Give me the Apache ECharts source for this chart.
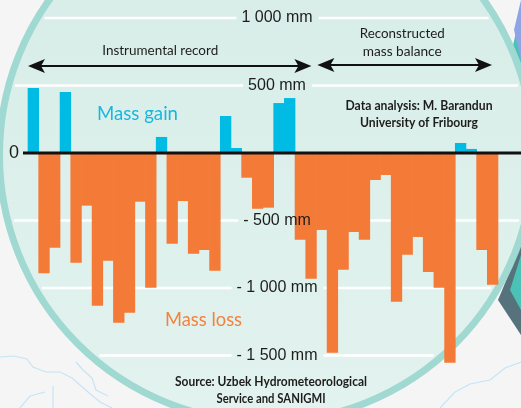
<!DOCTYPE html>
<html>
<head>
<meta charset="utf-8">
<script src="https://cdn.jsdelivr.net/npm/echarts@6/dist/echarts.min.js"></script>
<style>
  html, body { margin: 0; padding: 0; background: #f5f5f5; }
  #chart { width: 521px; height: 408px; }
</style>
</head>
<body>
<div id="chart"></div>
<script>
// Annual glacier mass balance, mm water equivalent
const years = ['1968','1969','1970','1971','1972','1973','1974','1975','1976','1977',
  '1978','1979','1980','1981','1982','1983','1984','1985','1986','1987',
  '1988','1989','1990','1991','1992','1993','1994','1995','1996','1997',
  '1998','1999','2000','2001','2002','2003','2004','2005','2006','2007',
  '2008','2009','2010','2011'];
const balance = [481, -890, -701, 452, -813, -390, -1131, -798, -1257, -1183,
  -361, -998, 119, -672, -356, -746, -719, -872, 274, 37,
  -183, -413, -405, 370, 407, -642, -931, -570, -1479, -864,
  -585, -642, -200, -163, -1101, -753, -622, -881, -998, -1553,
  74, 30, -719, -976];

// Axis ticks and their labels
const tickValues = [1000, 500, 0, -500, -1000, -1500];
const tickLabels = ['1 000 mm', '500 mm', '0', '- 500 mm', '- 1 000 mm', '- 1 500 mm'];

// Record periods shown by the arrows
const periodNames = [['Instrumental record'], ['Reconstructed', 'mass balance']];
const periodStart = ['1968', '1995'];
const periodEnd = ['1994', '2011'];

const GAIN = '#00bbe4';
const LOSS = '#f47a37';
const INK = '#1d1d1b';
const LENS = { cx: 266.5, cy: 155, r: 267 };

const chart = echarts.init(document.getElementById('chart'));

chart.setOption({
  backgroundColor: '#f5f5f5',
  animation: false,
  grid: { left: 28, right: 23, top: 18, bottom: 52.5 },
  xAxis: {
    type: 'category',
    data: years,
    show: false,
    boundaryGap: true
  },
  yAxis: {
    type: 'value',
    min: -1500,
    max: 1000,
    interval: 500,
    position: 'left',
    offset: -249,
    z: 10,
    axisLine: { show: false },
    axisTick: { show: false },
    splitLine: { show: false },
    axisLabel: {
      margin: 0,
      align: 'center',
      color: INK,
      fontFamily: 'Liberation Sans, Arial, sans-serif',
      fontSize: 16,
      formatter: function (v) {
        const i = tickValues.indexOf(v);
        return (i < 0 || v === 0) ? '' : tickLabels[i];
      }
    }
  },
  series: [{
    type: 'bar',
    data: balance.map(function (v) {
      return { value: v, itemStyle: { color: v >= 0 ? GAIN : LOSS } };
    }),
    barWidth: '106%',
    clip: false,
    silent: true,
    z: 2
  }]
});

// Decorations placed from the axis scales
const px = function (cat) { return chart.convertToPixel({ xAxisIndex: 0 }, cat); };
const py = function (v) { return chart.convertToPixel({ yAxisIndex: 0 }, v); };
const band = px(years[1]) - px(years[0]);
const zeroY = py(0);

const measure = (function () {
  const ctx = document.createElement('canvas').getContext('2d');
  return function (text, font) { ctx.font = font; return ctx.measureText(text).width; };
})();

const graphics = [];

// lens background
graphics.push({
  type: 'circle', z: -9, silent: true,
  shape: { cx: LENS.cx, cy: LENS.cy, r: LENS.r },
  style: {
    fill: new echarts.graphic.LinearGradient(0, 0, 0, 1, [
      { offset: 0, color: '#d5ece7' },
      { offset: 1, color: '#e3f3ef' }
    ]),
    stroke: '#a0d9d2',
    lineWidth: 7
  }
});

// faint river lines outside the lens
[
  [[0, 357], [14, 356], [27, 359], [33, 367], [46, 372], [60, 372], [72, 378], [88, 392], [100, 402], [112, 408]],
  [[53, 386], [53, 408]],
  [[76, 362], [83, 370], [92, 378], [96, 390], [108, 396]],
  [[440, 408], [455, 392], [470, 384], [490, 380], [505, 368], [521, 362]],
  [[20, 408], [30, 396], [45, 392]]
].forEach(function (pts) {
  graphics.push({
    type: 'polyline', z: -10, silent: true,
    shape: { points: pts },
    style: { stroke: '#c6e4f4', lineWidth: 1.2, fill: null }
  });
});

// shapes at the right edge
graphics.push({ type: 'polygon', z: -10, silent: true,
  shape: { points: [[521, 10], [507, 72], [521, 100]] }, style: { fill: '#4cc1b6' } });
graphics.push({ type: 'polygon', z: -10, silent: true,
  shape: { points: [[521, 0], [514, 30], [521, 60]] }, style: { fill: '#8fa4e4' } });
graphics.push({ type: 'polygon', z: -10, silent: true,
  shape: { points: [[521, 245], [498, 300], [521, 335]] }, style: { fill: '#56727c' } });
graphics.push({ type: 'polygon', z: -10, silent: true,
  shape: { points: [[521, 255], [510, 290], [521, 310]] }, style: { fill: '#4cc1b6' } });

// gridlines, broken around the tick labels
const labelFont = '16px Liberation Sans, Arial, sans-serif';
const labelX = 277;
tickValues.forEach(function (v, i) {
  if (v === 0) return;
  const y = py(v);
  const dy = y - LENS.cy;
  const rr = LENS.r - 6;
  if (Math.abs(dy) >= rr) return;
  const half = Math.sqrt(rr * rr - dy * dy);
  const x0 = LENS.cx - half, x1 = LENS.cx + half;
  const w = measure(tickLabels[i], labelFont);
  const gapL = labelX - w / 2 - 5, gapR = labelX + w / 2 + 6;
  [[x0, gapL], [gapR, x1]].forEach(function (seg) {
    if (seg[1] > seg[0]) {
      graphics.push({
        type: 'line', z: -8, silent: true,
        shape: { x1: seg[0], y1: y, x2: seg[1], y2: y },
        style: { stroke: '#ffffff', lineWidth: 2.5 }
      });
    }
  });
});

// zero line and its label
graphics.push({
  type: 'line', z: 5, silent: true,
  shape: { x1: 23, y1: zeroY, x2: 521, y2: zeroY },
  style: { stroke: '#111111', lineWidth: 3 }
});
graphics.push({
  type: 'text', z: 6, silent: true, x: 14, y: zeroY,
  style: { text: tickLabels[tickValues.indexOf(0)], font: '18px Liberation Sans, Arial, sans-serif',
    fill: INK, align: 'center', verticalAlign: 'middle' }
});

// period arrows
function arrow(xa, xb, y) {
  const len = 17, hh = 7;
  graphics.push({ type: 'line', z: 6, silent: true,
    shape: { x1: xa + 8, y1: y, x2: xb - 8, y2: y },
    style: { stroke: '#111111', lineWidth: 2.2 } });
  graphics.push({ type: 'polygon', z: 6, silent: true,
    shape: { points: [[xa, y], [xa + len, y - hh], [xa + len - 4, y], [xa + len, y + hh]] },
    style: { fill: '#111111' } });
  graphics.push({ type: 'polygon', z: 6, silent: true,
    shape: { points: [[xb, y], [xb - len, y - hh], [xb - len + 4, y], [xb - len, y + hh]] },
    style: { fill: '#111111' } });
}
const arrowY = py(1000) + 48;
const insets = [[0, 5], [1, 6]];
periodNames.forEach(function (names, k) {
  const xa = px(periodStart[k]) - band / 2 + insets[k][0];
  const xb = px(periodEnd[k]) + band / 2 - insets[k][1];
  arrow(xa, xb, arrowY - k);
});

const bodyFont = 'Lato, Open Sans, sans-serif';
function label(text, x, y, size, color, targetW, weight) {
  const font = (weight || 'normal') + ' ' + size + 'px ' + bodyFont;
  const w = measure(text, font);
  const sx = targetW ? targetW / w : 1;
  graphics.push({ type: 'text', z: 6, silent: true, x: x, y: y, scaleX: sx,
    style: { text: text, font: font, fill: color, align: 'center', verticalAlign: 'middle' } });
}

const instrMid = (px(periodStart[0]) + px(periodEnd[0])) / 2;
const reconMid = (px(periodStart[1]) + px(periodEnd[1])) / 2;
label(periodNames[0][0], instrMid - 12, arrowY - 15, 13.5, INK, 116);
label(periodNames[1][0], reconMid - 5, arrowY - 32, 13.5, INK, 85);
label(periodNames[1][1], reconMid - 5, arrowY - 14, 13.5, INK, 79);

label('Mass gain', 137.5, 113.5, 20, '#1ab6e0', 81);
label('Mass loss', 203.5, 320, 20, '#f4823f', 77);

label('Data analysis: M. Barandun', 419, 106, 13.5, INK, 147, 'bold');
label('University of Fribourg', 419, 123, 13.5, INK, 118, 'bold');
label('Source: Uzbek Hydrometeorological', 271, 382, 13.5, INK, 192, 'bold');
label('Service and SANIGMI', 271, 399, 13.5, INK, 109, 'bold');

chart.setOption({ graphic: { elements: graphics } });
</script>
</body>
</html>
